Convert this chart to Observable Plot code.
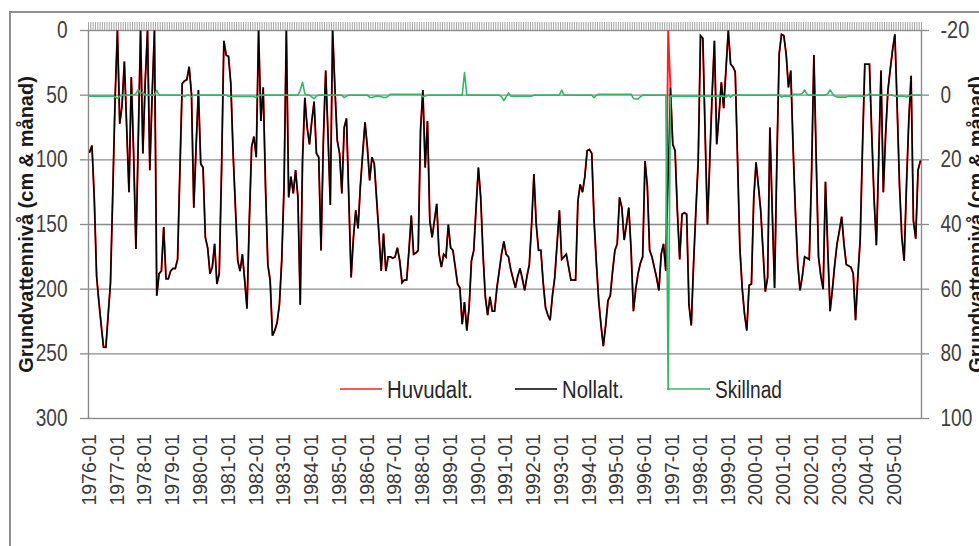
<!DOCTYPE html>
<html><head><meta charset="utf-8">
<script src="https://cdn.jsdelivr.net/npm/d3@7"></script>
<script src="https://cdn.jsdelivr.net/npm/@observablehq/plot@0.6"></script>
<style>
html,body{margin:0;padding:0;background:#fff;}
#wrap{position:relative;width:979px;height:546px;overflow:hidden;background:#fff;}
#wrap svg{position:absolute;left:0;top:0;}
#border{position:absolute;left:9px;top:11px;width:1100px;height:700px;border-left:2px solid #8f8f8f;border-top:2px solid #8f8f8f;pointer-events:none;}
</style></head>
<body><div id="wrap"></div>
<script>
// Nollalt. (cm), monthly 1976-01 .. 2005-12, one row per year
const nollalt = [
  94, 89, 130, 190, 210, 228, 245, 245, 220, 195, 125, 52,
  0, 72, 58, 24, 75, 125, 36, 95, 169, 85, 0, 95,
  40, 0, 108, 50, 0, 205, 188, 186, 152, 192, 192, 186,
  184, 184, 177, 108, 41, 39, 38, 28, 49, 137, 90, 46,
  103, 106, 160, 168, 188, 183, 165, 196, 188, 108, 8, 19,
  20, 41, 95, 137, 178, 186, 173, 193, 215, 147, 90, 82,
  98, 0, 70, 44, 121, 181, 193, 236, 232, 226, 212, 178,
  121, 0, 129, 113, 126, 108, 129, 212, 100, 52, 75, 88,
  70, 55, 95, 98, 170, 85, 31, 80, 135, 0, 45, 85,
  95, 126, 75, 68, 130, 191, 160, 139, 153, 120, 95, 71,
  90, 116, 98, 103, 130, 157, 186, 157, 186, 175, 175, 176,
  175, 168, 178, 195, 193, 193, 170, 143, 173, 172, 170, 77,
  46, 106, 70, 147, 160, 147, 134, 173, 183, 173, 175, 150,
  168, 170, 183, 196, 199, 227, 210, 232, 214, 178, 170, 137,
  106, 129, 173, 206, 220, 206, 217, 217, 199, 186, 173, 163,
  173, 175, 185, 192, 199, 190, 184, 192, 201, 190, 181, 150,
  111, 150, 170, 170, 195, 214, 220, 224, 205, 191, 165, 139,
  177, 175, 173, 183, 193, 193, 193, 132, 119, 125, 113, 93,
  92, 95, 147, 180, 209, 228, 244, 228, 209, 205, 186, 170,
  165, 129, 137, 162, 150, 137, 170, 217, 200, 188, 180, 175,
  101, 120, 170, 175, 183, 191, 201, 173, 165, 186, 115, 44,
  88, 93, 140, 177, 142, 141, 142, 212, 228, 180, 139, 101,
  4, 6, 80, 150, 100, 50, 8, 88, 65, 40, 60, 30,
  0, 26, 28, 32, 100, 168, 199, 219, 232, 197, 196, 130,
  102, 120, 139, 170, 202, 191, 75, 140, 199, 100, 18, 3,
  4, 18, 44, 31, 90, 140, 180, 201, 190, 175, 176, 177,
  110, 19, 100, 175, 190, 200, 117, 170, 217, 200, 181, 165,
  155, 144, 165, 181, 182, 183, 188, 224, 190, 162, 90, 26,
  26, 26, 80, 130, 166, 100, 31, 125, 80, 46, 30, 15,
  3, 60, 120, 160, 178, 120, 70, 35, 147, 161, 108, 101
];
// Huvudalt. equals Nollalt. except at these months
const huvudaltAvvikelser = [{index: 250, value: 0}];
// Skillnad (right axis), monthly
const skillnad = [
  0.3,0.3,0.3,0.3,0.3,0.3,0.3,0.3,0.3,0.3,0.3,0.5,
  1,0.3,0,0,0,0,0,0,-0.5,-1.8,-0.5,-1,
  0,0,0,0,0,-1.5,0,0,0,0,0,0,
  0,0,0,0,0,0.5,0,0,0.5,0,0,0,
  0,0,0,0,0,0,0,0,0,0,0,0,
  0.4,0.4,0.4,0.4,0.4,0.4,0.4,0.4,0.4,0.4,0.4,0.4,
  0.8,0,0,0,0,0,0,0,0,0,0,0,
  0,0,0,0,0,0,0,-1.5,-4,-0.5,0,0,
  0.5,1.1,0.3,0,0,0,0,0,0,0,0,0,
  0,0,0.8,0.3,0,0,0,0,0,0,0,0,
  0,0.7,0.7,0.5,0.3,0.3,0.5,0.7,0.7,0.3,-0.3,-0.3,
  -0.3,-0.3,-0.3,-0.3,-0.3,-0.3,-0.3,-0.3,-0.3,-0.3,-0.3,-0.3,
  0.5,0.3,0,0,0,0,0,0,0,0,0,0,
  0,0,0,0,0,0,-7,0,0,0,0,0,
  0,0,0,0,0,0,0,0,0,0,0.5,1.7,
  0.5,-0.7,0.3,0.3,0.3,0.3,0.3,0.3,0.3,0.3,0.3,0.3,
  0,0,0,0,0,0,0,0,0,0,0,0,
  -1.6,0,0,0,0,0,0,0,0,0,0,0,
  0,0,0.8,0,-0.3,-0.3,-0.3,-0.3,-0.3,-0.3,-0.3,-0.3,
  -0.3,-0.3,-0.3,-0.3,-0.3,-0.3,-0.3,1,1.2,1.2,0.5,0,
  0,0,0,0,0,0,0,0,0,0,91,0.3,
  0.3,0.3,0.3,0.3,0.3,0.3,0.3,0.3,0.3,0.3,0.3,0.3,
  0.3,0.3,0.3,0.3,0.3,0.3,0.3,0.3,0.3,0.3,0.3,0.6,
  0,0.6,0,0,0,0,0,0,0,0,0,0,
  0,0,0,0,0,0,0,0,0,0,0,0.6,
  0.3,0.3,0.3,0.5,-0.3,-0.3,-0.3,-0.3,-0.5,-1.6,-0.3,0,
  0,0,0,0,0,0,0,-0.5,-1.6,-0.5,0.3,0.6,
  0.6,0.6,0.6,0.6,0.3,0.3,0.3,0.3,0.3,0.3,0.3,0.3,
  0,-0.5,0,0,0,0,0,0,0,0,0,0,
  0.3,0.3,0.3,0.3,0.3,0.6,0.3,0,0,0,0,0
];
const xEtiketter = ["1976-01","1977-01","1978-01","1979-01","1980-01","1981-01","1982-01","1983-01","1984-01","1985-01",
  "1986-01","1987-01","1988-01","1989-01","1990-01","1991-01","1992-01","1993-01","1994-01","1995-01",
  "1996-01","1997-01","1998-01","1999-01","2000-01","2001-01","2002-01","2003-01","2004-01","2005-01"];
const vansterTicks = [0, 50, 100, 150, 200, 250, 300];
const hogerTicks = [-20, 0, 20, 40, 60, 80, 100];
const serieNamn = ["Huvudalt.", "Nollalt.", "Skillnad"];
const serieFarger = ["#ff2020", "#000000", "#30b868"];
const axelTitel = "Grundvattennivå (cm & månad)";

// layout (pixels) for the in-plot legend
const legendLayout = [
  {x0: 340, x1: 382, tx: 387, tw: 86},
  {x0: 515, x1: 557, tx: 562, tw: 62},
  {x0: 667, x1: 710, tx: 715, tw: 67}
];

// right axis maps linearly onto left axis: -20..100  <->  0..300
const hogerTillVanster = v => (v - hogerTicks[0]) * (vansterTicks[vansterTicks.length-1] - vansterTicks[0]) / (hogerTicks[hogerTicks.length-1] - hogerTicks[0]);
const vansterTillHoger = v => hogerTicks[0] + v * (hogerTicks[hogerTicks.length-1] - hogerTicks[0]) / (vansterTicks[vansterTicks.length-1] - vansterTicks[0]);

const data = nollalt.map((v, i) => ({i, noll: v, huvud: v, skill: hogerTillVanster(skillnad[i])}));
huvudaltAvvikelser.forEach(d => { data[d.index].huvud = d.value; });
const etikettData = xEtiketter.map((t, k) => ({i: k * 12, t}));
const kategoriGranser = d3.range(nollalt.length + 1).map(k => k - 0.5);

const font = "'Liberation Sans', Arial, sans-serif";
const grid = "#8c8c8c";

const svg = Plot.plot({
  width: 979, height: 546,
  marginLeft: 88, marginRight: 58, marginTop: 30, marginBottom: 128,
  style: {background: "transparent", fontFamily: font, color: "#404040", overflow: "visible"},
  x: {domain: [-0.5, nollalt.length - 0.5], axis: null},
  y: {domain: [vansterTicks[0], vansterTicks[vansterTicks.length-1]], reverse: true, axis: null},
  marks: [
    Plot.ruleY(vansterTicks.slice(1, -1), {stroke: grid, strokeWidth: 1.3}),
    Plot.frame({stroke: grid, strokeWidth: 1.4}),
    Plot.ruleX(kategoriGranser, {x: d => d, y1: 0, y2: -6.2, stroke: "#a3a3a3", strokeWidth: 1}),
    Plot.axisY(vansterTicks, {anchor: "left", tickSize: 8, tickPadding: 13, stroke: grid, strokeWidth: 1.3,
      fontSize: 23, fill: "#404040", label: null, tickFormat: d => String(d)}),
    Plot.axisY(vansterTicks, {anchor: "right", tickSize: 7, tickPadding: 12, stroke: grid, strokeWidth: 1.3,
      fontSize: 23, fill: "#404040", label: null, tickFormat: d => String(vansterTillHoger(d))}),
    Plot.text(etikettData, {x: "i", y: 312, text: "t", rotate: -90, textAnchor: "end", lineAnchor: "middle",
      fontSize: 19.5, fill: "#3a3a3a", ariaLabel: "xlabels"}),
    Plot.text([axelTitel], {frameAnchor: "left", dx: -56, rotate: -90, lineAnchor: "bottom", textAnchor: "middle",
      fontWeight: "bold", fontSize: 20, fill: "#1a1a1a", ariaLabel: "ytitle"}),
    Plot.text([axelTitel], {frameAnchor: "right", dx: 61, rotate: -90, lineAnchor: "bottom", textAnchor: "middle",
      fontWeight: "bold", fontSize: 20, fill: "#1a1a1a", ariaLabel: "ytitle"}),
    Plot.line(data, {x: "i", y: "huvud", stroke: serieFarger[0], strokeWidth: 1.9, strokeLinejoin: "miter", strokeMiterlimit: 3}),
    Plot.line(data, {x: "i", y: "noll", stroke: serieFarger[1], strokeWidth: 1.5, strokeLinejoin: "miter", strokeMiterlimit: 3}),
    Plot.line(data, {x: "i", y: "skill", stroke: serieFarger[2], strokeWidth: 1.6})
  ]
});

function setLen(sel, fn) {
  svg.querySelectorAll(sel).forEach(t => {
    t.setAttribute("textLength", fn(t.textContent));
    t.setAttribute("lengthAdjust", "spacingAndGlyphs");
  });
}
setLen('g[aria-label="xlabels"] text', () => 88);
setLen('g[aria-label="ytitle"] text', () => 350);
setLen('g[aria-label="y-axis tick label"] text', s => {
  let w = 0; for (const c of s) w += (c === "-" || c === "−") ? 7.5 : 10.6; return w;
});

// legend inside the plot area
const leg = d3.select(svg).append("g").attr("aria-label", "legend").attr("text-anchor", "start");
serieNamn.forEach((name, k) => {
  const L = legendLayout[k];
  leg.append("line").attr("x1", L.x0).attr("x2", L.x1).attr("y1", 389).attr("y2", 389)
    .attr("stroke", serieFarger[k]).attr("stroke-width", 1.6);
  leg.append("text").attr("x", L.tx).attr("y", 398).text(name)
    .attr("text-anchor", "start")
    .attr("font-family", font).attr("font-size", 23).attr("fill", "#262626")
    .attr("textLength", L.tw).attr("lengthAdjust", "spacingAndGlyphs");
});

const wrap = document.getElementById("wrap");
wrap.appendChild(svg);
const border = document.createElement("div");
border.id = "border";
wrap.appendChild(border);
</script></body></html>
